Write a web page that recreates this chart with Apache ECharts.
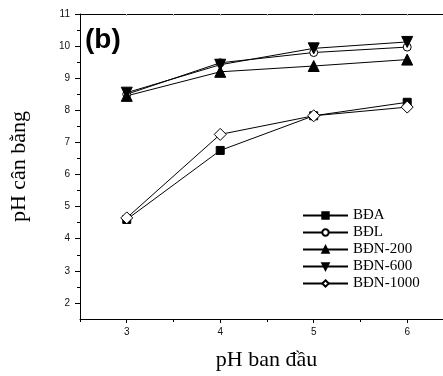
<!DOCTYPE html>
<html>
<head>
<meta charset="utf-8">
<script src="https://cdn.jsdelivr.net/npm/echarts@6/dist/echarts.min.js"></script>
<style>
  html, body { margin: 0; padding: 0; background: #fff; }
  #chart { width: 443px; height: 376px; }
</style>
</head>
<body>
<div id="chart"></div>
<script>
// pH ban đầu
const phStart = [3, 4, 5, 6]
// giá trị pH cân bằng của từng mẫu
const bdA = [4.6, 6.75, 7.83, 8.25]
const bdL = [8.5, 9.48, 9.8, 9.97]
const bdn200 = [8.45, 9.2, 9.38, 9.58]
const bdn600 = [8.55, 9.42, 9.93, 10.13]
const bdn1000 = [4.65, 7.25, 7.83, 8.1]
const xTicks = [3, 4, 5, 6]
const yTicks = [2, 3, 4, 5, 6, 7, 8, 9, 10, 11]
const yHalfTicks = [2.5, 3.5, 4.5, 5.5, 6.5, 7.5, 8.5, 9.5, 10.5]
const xHalfTicks = [2.5, 3.5, 4.5, 5.5]

// the original picture is cut at the right, axis ends near 6.38
const xMin = 2.5
const xMax = 6.383

const chart = echarts.init(document.getElementById('chart'))

const pairs = ys => phStart.map((x, i) => [x, ys[i]])

function line (name, data, symbol, filled, size, rotate) {
  return {
    name: name,
    type: 'line',
    data: pairs(data),
    symbol: symbol,
    symbolSize: size,
    symbolRotate: rotate || 0,
    lineStyle: { color: '#000', width: 1 },
    itemStyle: {
      color: filled ? '#000' : '#fff',
      borderColor: '#000',
      borderWidth: 1
    },
    emphasis: { disabled: true },
    z: 3
  }
}

const tickFont = { fontFamily: 'Liberation Sans', fontSize: 10, color: '#111' }
const nameFont = { fontFamily: 'Liberation Serif', fontSize: 22, color: '#000' }

const option = {
  animation: false,
  grid: { left: 79, right: 0, top: 14, bottom: 55 },
  graphic: [{
    type: 'text',
    left: 85,
    top: 26,
    style: { text: '(b)', font: 'bold 28px "Liberation Sans"', fill: '#000' }
  }],
  legend: {
    orient: 'vertical',
    left: 302,
    top: 208,
    padding: 0,
    itemWidth: 45,
    itemHeight: 8,
    itemGap: 2,
    textStyle: { fontFamily: 'Liberation Serif', fontSize: 15, color: '#000' },
    data: ['BĐA', 'BĐL', 'BĐN-200', 'BĐN-600', 'BĐN-1000']
  },
  xAxis: [{
    type: 'value',
    min: xMin,
    max: xMax,
    name: 'pH ban đầu',
    nameLocation: 'middle',
    nameGap: 30,
    nameTextStyle: { ...nameFont, padding: [0, 0, 0, 10] },
    axisLine: { lineStyle: { color: '#000', width: 1 } },
    axisTick: { length: 4, customValues: xTicks, lineStyle: { color: '#000' } },
    axisLabel: { customValues: xTicks, margin: 8, ...tickFont },
    splitLine: { show: false }
  }, {
    type: 'value',
    position: 'bottom',
    min: xMin,
    max: xMax,
    axisLine: { show: false },
    axisTick: { length: 3, customValues: xHalfTicks, lineStyle: { color: '#000' } },
    axisLabel: { show: false },
    splitLine: { show: false }
  }, {
    type: 'value',
    position: 'top',
    min: xMin,
    max: xMax,
    axisLine: { lineStyle: { color: '#000', width: 1 } },
    axisTick: { inside: true, length: 2, customValues: [3, 3.5, 4, 4.5, 5, 5.5, 6], lineStyle: { color: '#bbb' } },
    axisLabel: { show: false },
    splitLine: { show: false }
  }],
  yAxis: [{
    type: 'value',
    min: 1.5,
    max: 11,
    name: 'pH cân bằng',
    nameLocation: 'middle',
    nameGap: 50,
    nameTextStyle: nameFont,
    axisLine: { show: true, lineStyle: { color: '#000', width: 1 } },
    axisTick: { show: true, length: 5, customValues: yTicks, lineStyle: { color: '#000' } },
    axisLabel: { customValues: yTicks, margin: 10, ...tickFont },
    splitLine: { show: false }
  }, {
    type: 'value',
    position: 'left',
    min: 1.5,
    max: 11,
    axisLine: { show: false },
    axisTick: { show: true, length: 3, customValues: yHalfTicks, lineStyle: { color: '#000' } },
    axisLabel: { show: false },
    splitLine: { show: false }
  }],
  series: [
    line('BĐA', bdA, 'rect', true, 8),
    line('BĐL', bdL, 'circle', false, 8),
    line('BĐN-200', bdn200, 'triangle', true, 11),
    line('BĐN-600', bdn600, 'triangle', true, 11, 180),
    line('BĐN-1000', bdn1000, 'diamond', false, 12)
  ]
}

chart.setOption(option)
</script>
</body>
</html>
